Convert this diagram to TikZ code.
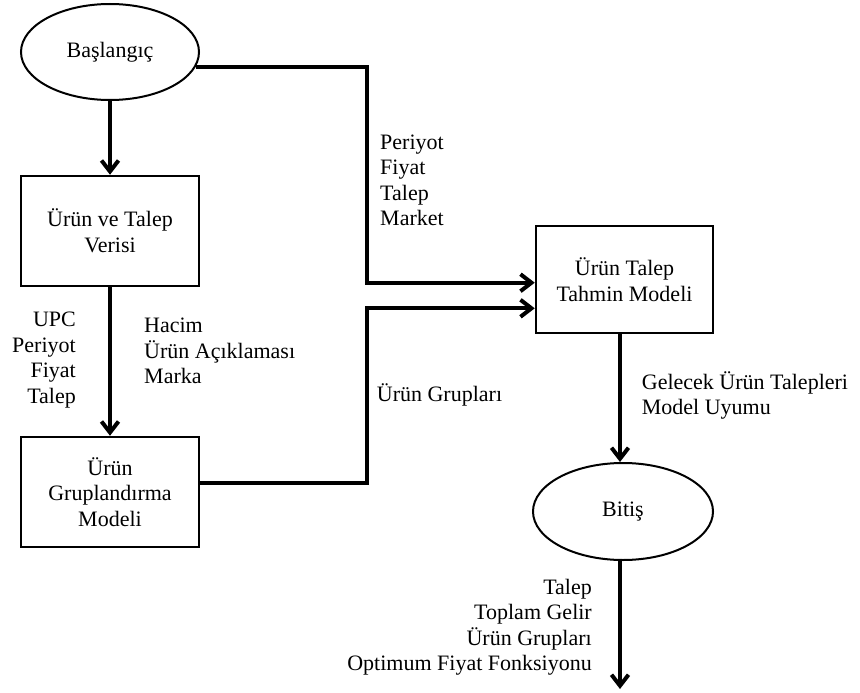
\documentclass[tikz,border=0pt]{standalone}
\usepackage{fontspec}
\setmainfont{Liberation Serif}
\usetikzlibrary{shapes.geometric,arrows.meta}
\begin{document}
\begin{tikzpicture}[x=1pt,y=-1pt,
  txt/.style={font=\fontsize{22}{25.5}\selectfont},
  oval/.style={txt,draw,ellipse,line width=2pt,inner sep=0pt},
  boxnode/.style={txt,draw,rectangle,line width=2.5pt,inner sep=0pt,align=center},
  lbl/.style={txt,inner sep=0pt},
  arr/.style={line width=4pt,-{Straight Barb[length=11pt,width=17pt]}},
  conn/.style={line width=4pt}]
\useasboundingbox (0,0) rectangle (860,693);
% nodes
\node[oval,minimum width=178pt,minimum height=96pt] (start) at (110,52) {Başlangıç};
\node[boxnode,minimum width=178pt,minimum height=110pt] (data) at (110,231) {Ürün ve Talep\\Verisi};
\node[boxnode,minimum width=178pt,minimum height=110pt] (group) at (110,492) {Ürün\\Gruplandırma\\Modeli};
\node[boxnode,minimum width=177pt,minimum height=107pt] (model) at (624.5,279.5) {Ürün Talep\\Tahmin Modeli};
\node[oval,minimum width=180pt,minimum height=97pt] (end) at (623,511.5) {Bitiş};
% labels
\node[lbl,anchor=east,align=right] (l1) at (76,360) {UPC\\Periyot\\Fiyat\\Talep};
\node[lbl,anchor=west,align=left] (l2) at (144,351) {Hacim\\Ürün Açıklaması\\Marka};
\node[lbl,anchor=west,align=left] (l3) at (380,180.5) {Periyot\\Fiyat\\Talep\\Market};
\node[lbl,anchor=west,align=left] (l4) at (376.7,395) {Ürün Grupları};
\node[lbl,anchor=west,align=left] (l5) at (641.7,395.5) {Gelecek Ürün Talepleri\\Model Uyumu};
\node[lbl,anchor=east,align=right] (l6) at (592,627) {Talep\\Toplam Gelir\\Ürün Grupları\\Optimum Fiyat Fonksiyonu};
% helper coordinates
\coordinate (k1) at (367,282.7);
\coordinate (k2) at (367,308.3);
\coordinate (k3) at (367,483.3);
\coordinate (cx) at (620,0);
\coordinate (out) at (620,689);
% connectors
\draw[arr] (start) -- (data);
\draw[arr] (data) -- (group);
\draw[arr] (start.-10) -| (k1) -- (k1 -| model.west);
\draw[arr] (group.east |- k3) -- (k3) -- (k2) -- (k2 -| model.west);
\draw[arr] (cx |- model.south) -- (cx |- end.north);
\draw[arr] (cx |- end.south) -- (out);
\end{tikzpicture}
\end{document}
